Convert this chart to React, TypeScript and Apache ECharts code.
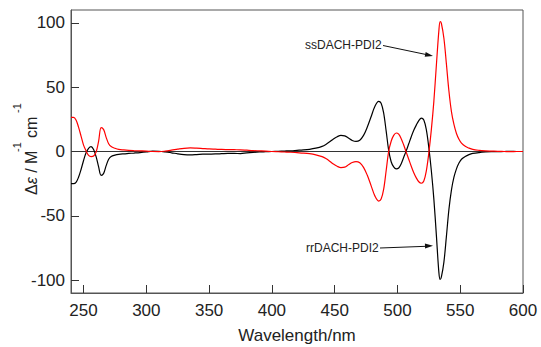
import React, { useEffect, useRef } from "react";
import * as echarts from "echarts";

const wavelengths = [240, 242, 244, 246, 248, 250, 252, 254, 256, 258, 260, 262, 264, 266, 268, 270, 272, 275, 278, 282, 286, 290, 295, 300, 305, 310, 315, 320, 325, 330, 335, 340, 345, 350, 355, 360, 365, 370, 375, 380, 385, 390, 395, 400, 405, 410, 415, 420, 425, 430, 435, 440, 443, 446, 449, 452, 455, 458, 461, 464, 467, 470, 473, 476, 479, 482, 485, 487, 489, 491, 493, 495, 497, 499, 501, 503, 505, 507, 509, 511, 513, 515, 517, 519, 521, 523, 525, 527, 529, 531, 533, 534, 535, 537, 539, 541, 543, 545, 547, 549, 551, 554, 557, 560, 565, 570, 575, 580, 585, 590, 595, 600];

const rrDACH = [-25, -25, -24, -20, -14, -7, -1, 2.5, 3.8, 1.5, -4, -12, -18.5, -17, -11, -6, -3.8, -2.8, -2.2, -1.8, -1.5, -1.2, -0.8, -0.3, 0.3, 0.2, -0.3, -1, -1.8, -2.4, -2.6, -2.4, -2.1, -2, -1.9, -1.7, -1.5, -1.5, -1.6, -1.1, -0.7, -0.4, -0.2, 0, 0.2, 0.4, 0.6, 0.9, 1.2, 1.7, 2.6, 4, 5.5, 7.5, 9.8, 11.5, 12.5, 12.2, 10.5, 8.6, 7.8, 8.8, 12.5, 19, 27, 35, 39, 37.5, 30, 16, 1, -8, -12, -13.5, -12.8, -9.5, -4.5, 0.5, 6, 11.5, 16.5, 20.5, 24, 26, 24.5, 17, 3, -15, -37, -65, -94, -99.5, -97.5, -86, -66, -45, -30, -20, -13.5, -9, -6, -3.8, -2.4, -1.5, -0.8, -0.4, -0.2, -0.1, 0, 0.1, 0, 0];

const ssDACH = [26.5, 26.5, 24.5, 19, 12, 5, 0.5, -3, -4, -3.5, -0.5, 8, 18.5, 17, 11, 6, 3.8, 2.5, 1.6, 1.2, 0.9, 0.7, 0.5, 0.3, 0, -0.1, 0.3, 1, 1.8, 2.5, 2.8, 2.6, 2.3, 2, 1.8, 1.6, 1.5, 1.4, 1.3, 1, 0.7, 0.5, 0.3, 0, -0.2, -0.4, -0.6, -0.9, -1.2, -1.7, -2.6, -4, -5.5, -7.5, -9.8, -11.5, -12.5, -12.2, -10.3, -8.5, -7.8, -8.7, -12.3, -18.5, -26.5, -34.5, -38.5, -37, -29.5, -15, 0, 8, 12.5, 14.4, 13.5, 10, 5, -0.5, -6, -11.5, -16.5, -20.5, -23.5, -24.7, -23, -15, -1, 17, 39, 67, 94, 101, 99.5, 88, 68, 47, 31, 21, 14, 9.5, 6.5, 4, 2.6, 1.6, 0.9, 0.5, 0.3, 0.1, 0, -0.1, 0, 0];

const xTicks = [250, 300, 350, 400, 450, 500, 550, 600];
const yTicks = [-100, -50, 0, 50, 100];

const FONT = "'Liberation Sans', Arial, sans-serif";

export default function App() {
  const ref = useRef<HTMLDivElement>(null);
  useEffect(() => {
    if (!ref.current) return;
    const chart = echarts.init(ref.current, null, { renderer: "svg" });
    const pair = (vals: number[]) => wavelengths.map((w, i) => [w, vals[i]]);
    chart.setOption({
      animation: false,
      backgroundColor: "#ffffff",
      grid: {
        left: 71,
        right: 18,
        top: 10,
        bottom: 54,
        show: true,
        borderColor: "#555",
        borderWidth: 1,
        containLabel: false,
        outerBoundsMode: "none",
      },
      xAxis: {
        type: "value",
        min: 240,
        max: 600,
        interval: 10,
        name: "Wavelength/nm",
        nameLocation: "middle",
        nameGap: 34,
        nameTextStyle: { fontFamily: FONT, fontSize: 17, color: "#222" },
        axisLine: { show: true, onZero: false, lineStyle: { color: "#555", width: 1 } },
        axisTick: {
          show: true,
          inside: true,
          length: 8,
          lineStyle: { color: "#333" },
          customValues: xTicks,
        },
        axisLabel: {
          fontFamily: FONT,
          fontSize: 17,
          color: "#222",
          margin: 9,
          customValues: xTicks,
        },
        splitLine: { show: false },
      },
      yAxis: {
        type: "value",
        min: -110,
        max: 110,
        axisLine: { show: true, onZero: false, lineStyle: { color: "#555", width: 1 } },
        axisTick: { show: true, inside: true, length: 8, lineStyle: { color: "#333" }, customValues: yTicks },
        axisLabel: { fontFamily: FONT, fontSize: 17, color: "#222", margin: 6, customValues: yTicks },
        splitLine: { show: false },
      },
      series: [
        {
          type: "line",
          name: "rrDACH-PDI2",
          data: pair(rrDACH),
          showSymbol: false,
          smooth: 0.35,
          lineStyle: { color: "#000", width: 1.2 },
          z: 3,
          markLine: {
            silent: true,
            symbol: ["none", "none"],
            label: { show: false },
            lineStyle: { color: "#333", width: 1, type: "solid" },
            data: [{ yAxis: 0 }],
            z: 1,
          },
        },
        {
          type: "line",
          name: "ssDACH-PDI2",
          data: pair(ssDACH),
          showSymbol: false,
          smooth: 0.35,
          lineStyle: { color: "#ff0000", width: 1.2 },
          z: 4,
        },
      ],
      graphic: [
        {
          type: "group",
          x: 31,
          y: 195,
          rotation: Math.PI / 2,
          children: [
            {
              type: "text",
              x: 0,
              y: 0,
              style: {
                text: "Δ{i|ε} / M",
                rich: { i: { fontStyle: "italic", fontFamily: FONT, fontSize: 16, fill: "#222" } },
                fontFamily: FONT,
                fontSize: 16,
                fill: "#222",
                align: "left",
                verticalAlign: "middle",
              },
            },
            {
              type: "text",
              x: 43,
              y: -14,
              style: { text: "-1", fontFamily: FONT, fontSize: 11, fill: "#222", align: "left", verticalAlign: "middle" },
            },
            {
              type: "text",
              x: 57,
              y: 0,
              style: { text: "cm", fontFamily: FONT, fontSize: 16, fill: "#222", align: "left", verticalAlign: "middle" },
            },
            {
              type: "text",
              x: 82,
              y: -14,
              style: { text: "-1", fontFamily: FONT, fontSize: 11, fill: "#222", align: "left", verticalAlign: "middle" },
            },
          ],
        },
        {
          type: "text",
          x: 305,
          y: 45,
          style: { text: "ssDACH-PDI2", fontFamily: FONT, fontSize: 12, fill: "#222", align: "left", verticalAlign: "middle" },
        },
        {
          type: "line",
          shape: { x1: 383, y1: 45.5, x2: 426, y2: 54.5 },
          style: { stroke: "#111", lineWidth: 1 },
        },
        {
          type: "polygon",
          shape: { points: [[433, 56], [424.7, 56.8], [425.7, 51.9]] },
          style: { fill: "#111" },
        },
        {
          type: "text",
          x: 306,
          y: 248,
          style: { text: "rrDACH-PDI2", fontFamily: FONT, fontSize: 12, fill: "#222", align: "left", verticalAlign: "middle" },
        },
        {
          type: "line",
          shape: { x1: 380, y1: 248, x2: 426, y2: 246.3 },
          style: { stroke: "#111", lineWidth: 1 },
        },
        {
          type: "polygon",
          shape: { points: [[433, 245.8], [425.1, 248.6], [424.9, 243.6]] },
          style: { fill: "#111" },
        },
      ],
    });
    return () => chart.dispose();
  }, []);
  return (
    <div
      ref={ref}
      style={{ position: "fixed", left: 0, top: 0, width: 541, height: 347, background: "#fff" }}
    />
  );
}
